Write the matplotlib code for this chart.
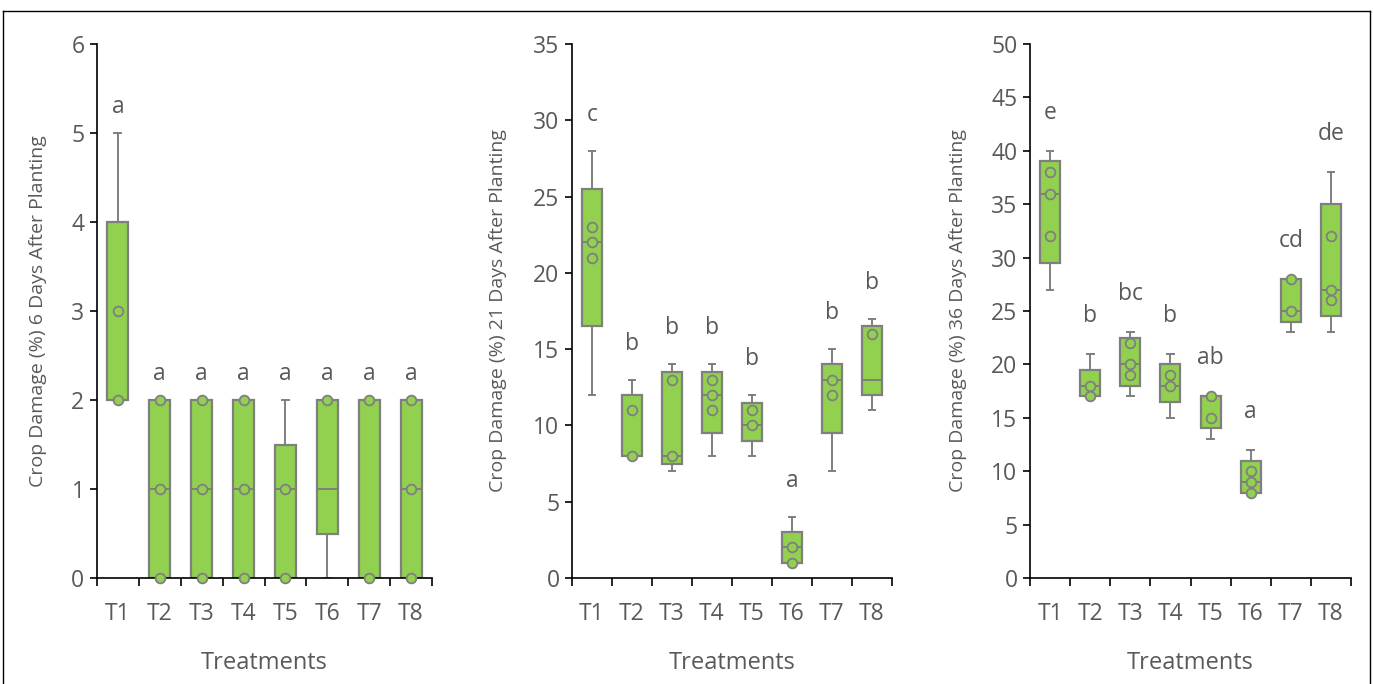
import matplotlib
matplotlib.use("Agg")
import matplotlib.pyplot as plt
from matplotlib.lines import Line2D

plt.rcParams['font.family'] = ['Open Sans', 'DejaVu Sans']

treatments = ["T1", "T2", "T3", "T4", "T5", "T6", "T7", "T8"]

# Panel 1: 6 days after planting
p1_q1 = [2, 0, 0, 0, 0, 0.5, 0, 0]
p1_med = [2, 1, 1, 1, 1, 1, 2, 1]
p1_q3 = [4, 2, 2, 2, 1.5, 2, 2, 2]
p1_lo = [2, 0, 0, 0, 0, 0, 0, 0]
p1_hi = [5, 2, 2, 2, 2, 2, 2, 2]
p1_pts = [[3, 2], [2, 1, 0], [2, 1, 0], [2, 1, 0], [1, 0], [2], [2, 0], [2, 1, 0]]
p1_letters = ["a", "a", "a", "a", "a", "a", "a", "a"]

# Panel 2: 21 days after planting
p2_q1 = [16.5, 8, 7.5, 9.5, 9, 1, 9.5, 12]
p2_med = [22, 8, 8, 12, 10, 2, 13, 13]
p2_q3 = [25.5, 12, 13.5, 13.5, 11.5, 3, 14, 16.5]
p2_lo = [12, 8, 7, 8, 8, 1, 7, 11]
p2_hi = [28, 13, 14, 14, 12, 4, 15, 17]
p2_pts = [[23, 22, 21], [11, 8], [13, 8], [13, 12, 11], [11, 10], [2, 1], [13, 12], [16]]
p2_letters = ["c", "b", "b", "b", "b", "a", "b", "b"]

# Panel 3: 36 days after planting
p3_q1 = [29.5, 17, 18, 16.5, 14, 8, 24, 24.5]
p3_med = [36, 18, 20, 18, 17, 9, 25, 27]
p3_q3 = [39, 19.5, 22.5, 20, 17, 11, 28, 35]
p3_lo = [27, 17, 17, 15, 13, 8, 23, 23]
p3_hi = [40, 21, 23, 21, 17, 12, 28, 38]
p3_pts = [[38, 36, 32], [18, 17], [22, 20, 19], [19, 18], [17, 15], [10, 9, 8], [28, 25], [32, 27, 26]]
p3_letters = ["e", "b", "bc", "b", "ab", "a", "cd", "de"]

W, H = 1373, 684
fig = plt.figure(figsize=(W / 100, H / 100), dpi=100)

GREEN = "#92d050"
GRAY = "#7f7f7f"
TXT = "#595959"

panels = [
    dict(q1=p1_q1, med=p1_med, q3=p1_q3, lo=p1_lo, hi=p1_hi, pts=p1_pts, let=p1_letters,
         ymax=6, step=1, label="Crop Damage (%) 6 Days After Planting",
         x0=97, x1=432, lab_off=20, ylx=47),
    dict(q1=p2_q1, med=p2_med, q3=p2_q3, lo=p2_lo, hi=p2_hi, pts=p2_pts, let=p2_letters,
         ymax=35, step=5, label="Crop Damage (%) 21 Days After Planting",
         x0=572, x1=892, lab_off=30, ylx=507),
    dict(q1=p3_q1, med=p3_med, q3=p3_q3, lo=p3_lo, hi=p3_hi, pts=p3_pts, let=p3_letters,
         ymax=50, step=5, label="Crop Damage (%) 36 Days After Planting",
         x0=1030, x1=1351, lab_off=32, ylx=967),
]

ytop, ybot = 44, 578
for p in panels:
    ax = fig.add_axes([p["x0"] / W, 1 - ybot / H, (p["x1"] - p["x0"]) / W, (ybot - ytop) / H])
    ax.patch.set_alpha(0)
    stats = []
    for i in range(8):
        stats.append(dict(q1=p["q1"][i], med=p["med"][i], q3=p["q3"][i],
                          whislo=p["lo"][i], whishi=p["hi"][i], fliers=[]))
    pos = list(range(1, 9))
    ax.bxp(stats, positions=pos, widths=0.5, capwidths=0.17, patch_artist=True,
           showfliers=False,
           boxprops=dict(facecolor=GREEN, edgecolor=GRAY, linewidth=1.6),
           medianprops=dict(color=GRAY, linewidth=1.4),
           whiskerprops=dict(color=GRAY, linewidth=1.4),
           capprops=dict(color=GRAY, linewidth=1.4))
    for i, vals in enumerate(p["pts"]):
        ax.plot([pos[i]] * len(vals), vals, linestyle="none", marker="o", markersize=7,
                markerfacecolor=GREEN, markeredgecolor=GRAY, markeredgewidth=1.3,
                clip_on=False, zorder=5)
    for i, lt in enumerate(p["let"]):
        ax.annotate(lt, xy=(pos[i], p["hi"][i]), xytext=(0, p["lab_off"]),
                    textcoords="offset pixels", ha="center", va="baseline",
                    fontsize=16.5, color=TXT)
    ax.set_xlim(0.5, 8.5)
    ax.set_ylim(0, p["ymax"])
    ax.set_yticks(range(0, p["ymax"] + 1, p["step"]))
    ax.set_xticks(pos)
    ax.set_xticklabels(treatments)
    ax.set_xticks([x + 0.5 for x in range(0, 9)], minor=True)
    ax.tick_params(axis="x", which="major", length=0, pad=17, labelsize=16.5, labelcolor=TXT)
    ax.tick_params(axis="x", which="minor", length=6, width=1.2, color="black", direction="out")
    ax.tick_params(axis="y", length=5, width=1.2, color="black", pad=4,
                   labelsize=16.5, labelcolor=TXT)
    for s in ["top", "right"]:
        ax.spines[s].set_visible(False)
    for s in ["left", "bottom"]:
        ax.spines[s].set_linewidth(1.2)
        ax.spines[s].set_color("black")
    ax.set_ylabel(p["label"], fontsize=14, color=TXT)
    ax.yaxis.set_label_coords((p["ylx"] - p["x0"]) / (p["x1"] - p["x0"]), 0.5)
    ax.set_xlabel("Treatments", fontsize=17, color=TXT, labelpad=18)

# figure frame
fx0, fx1, fy = 3 / W, 1370 / W, 1 - 10.5 / H
fig.add_artist(Line2D([fx0, fx1], [fy, fy], color="black", linewidth=1.0))
fig.add_artist(Line2D([fx0, fx0], [0, fy], color="black", linewidth=1.0))
fig.add_artist(Line2D([fx1, fx1], [0, fy], color="black", linewidth=1.0))

fig.savefig("out.png", dpi=100)
